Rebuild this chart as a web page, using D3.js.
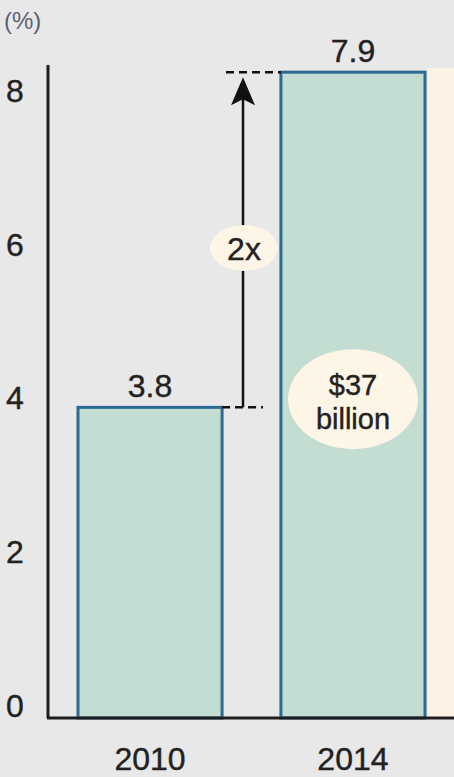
<!DOCTYPE html>
<html>
<head>
<meta charset="utf-8">
<script src="https://cdn.jsdelivr.net/npm/d3@7"></script>
<style>
  html, body { margin: 0; padding: 0; background: #e8e8e8; }
  svg { display: block; font-family: "Liberation Sans", Arial, sans-serif; }
  svg text { stroke: #222; stroke-width: 0.4px; }
</style>
</head>
<body>
<div class="chart"></div>
<script>
	// data
	var years = ["2010", "2014"];
	var shares = [3.8, 7.9];
	var yTicks = [0, 2, 4, 6, 8];
	var unitLabel = "(%)";
	var ratioLabel = "2x";
	var amountLabel = ["$37", "billion"];

	var width = 454, height = 777;

	var svg = d3.select(".chart")
		.append("svg")
			.attr("width", width)
			.attr("height", height);

	// scales
	var x = d3.scaleBand()
		.domain(years)
		.range([78, 425])
		.paddingInner(0.29)
		.paddingOuter(0);

	var y = d3.scaleLinear()
		.domain([0, 8])
		.range([718, 64]);

	// tick labels sit a little inside the axis ends in the original
	var yLab = d3.scaleLinear()
		.domain([0, 8])
		.range([718 - 12, 64 + 27]);

	// cream strip on the right
	svg.append("rect")
		.attr("x", 428)
		.attr("y", 68)
		.attr("width", width - 428)
		.attr("height", y(0) - 68)
		.attr("fill", "#fdf3e4");

	// bars
	svg.selectAll(".bar")
		.data(years)
		.enter().append("rect")
			.attr("class", "bar")
			.attr("x", function(d) { return x(d); })
			.attr("y", function(d, i) { return y(shares[i]); })
			.attr("width", x.bandwidth())
			.attr("height", function(d, i) { return y(0) - y(shares[i]); })
			.attr("fill", "#c3ddd3")
			.attr("stroke", "#2b6a93")
			.attr("stroke-width", 3);

	// value labels
	svg.selectAll(".val")
		.data(years)
		.enter().append("text")
			.attr("class", "val")
			.attr("x", function(d) { return x(d) + x.bandwidth() / 2; })
			.attr("y", function(d, i) { return y(shares[i]) - 10; })
			.attr("text-anchor", "middle")
			.attr("font-size", "32px")
			.attr("fill", "#222")
			.text(function(d, i) { return shares[i].toFixed(1); });

	// axes
	svg.append("line")
		.attr("x1", 48).attr("x2", 48)
		.attr("y1", 65).attr("y2", y(0))
		.attr("stroke", "#1e1e1e")
		.attr("stroke-width", 3);

	svg.append("line")
		.attr("x1", 47).attr("x2", width)
		.attr("y1", y(0)).attr("y2", y(0))
		.attr("stroke", "#1e1e1e")
		.attr("stroke-width", 3);

	var yAxis = svg.append("g")
		.attr("transform", "translate(30,0)")
		.call(d3.axisLeft(yLab).tickValues(yTicks).tickSize(0).tickPadding(0));
	yAxis.select(".domain").remove();
	yAxis.selectAll("text")
		.attr("x", -15)
		.attr("text-anchor", "middle")
		.attr("font-size", "32px")
		.attr("font-family", "Liberation Sans, Arial, sans-serif")
		.attr("fill", "#222");

	var xAxis = svg.append("g")
		.attr("transform", "translate(0," + y(0) + ")")
		.call(d3.axisBottom(x).tickSize(0).tickPadding(0));
	xAxis.select(".domain").remove();
	xAxis.selectAll("text")
		.attr("dy", null)
		.attr("y", 52)
		.attr("font-size", "32px")
		.attr("font-family", "Liberation Sans, Arial, sans-serif")
		.attr("fill", "#222");

	svg.append("text")
		.attr("x", 4)
		.attr("y", 29)
		.attr("font-size", "24px")
		.attr("fill", "#5e5e74")
		.style("stroke", "none")
		.text(unitLabel);

	// comparison annotation: dashed guides + arrow
	var ax = 243;
	svg.append("line")
		.attr("x1", 226).attr("x2", x("2014"))
		.attr("y1", y(shares[1])).attr("y2", y(shares[1]))
		.attr("stroke", "#111").attr("stroke-width", 2.5)
		.attr("stroke-dasharray", "8,5");
	svg.append("line")
		.attr("x1", x("2010") + x.bandwidth()).attr("x2", 263)
		.attr("y1", y(shares[0])).attr("y2", y(shares[0]))
		.attr("stroke", "#111").attr("stroke-width", 2.5)
		.attr("stroke-dasharray", "8,5");

	var tip = y(shares[1]) + 5;
	svg.append("line")
		.attr("x1", ax).attr("x2", ax)
		.attr("y1", y(shares[0])).attr("y2", tip + 20)
		.attr("stroke", "#111").attr("stroke-width", 2.5);
	svg.append("path")
		.attr("d", "M" + ax + "," + tip + " L" + (ax + 12) + "," + (tip + 28) +
			" L" + ax + "," + (tip + 22) + " L" + (ax - 12) + "," + (tip + 28) + " Z")
		.attr("fill", "#111");

	svg.append("ellipse")
		.attr("cx", ax + 1).attr("cy", y(5.75))
		.attr("rx", 34).attr("ry", 23)
		.attr("fill", "#fdf5e6");
	svg.append("text")
		.attr("x", ax + 1).attr("y", y(5.75) + 12)
		.attr("text-anchor", "middle")
		.attr("font-size", "32px")
		.attr("fill", "#222")
		.text(ratioLabel);

	// amount bubble
	var bx = x("2014") + x.bandwidth() / 2, by = y(3.9);
	svg.append("ellipse")
		.attr("cx", bx).attr("cy", by)
		.attr("rx", 65).attr("ry", 50)
		.attr("fill", "#fdf5e6");
	svg.selectAll(".amt")
		.data(amountLabel)
		.enter().append("text")
			.attr("class", "amt")
			.attr("x", bx)
			.attr("y", function(d, i) { return by - 4 + i * 34; })
			.attr("text-anchor", "middle")
			.attr("font-size", "29px")
			.attr("fill", "#222")
			.text(function(d) { return d; });
</script>
</body>
</html>
